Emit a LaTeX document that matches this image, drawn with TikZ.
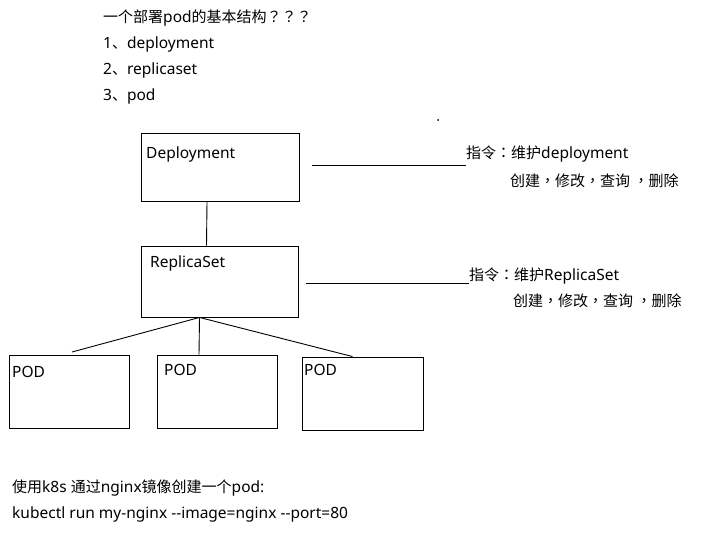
\documentclass[tikz,border=0pt]{standalone}
\usepackage{fontspec}
\setmainfont{Noto Sans}[Ligatures=TeXOff]
\newfontfamily\zhfont{Noto Sans CJK SC}[Ligatures=TeXOff,Scale=0.968]
\newfontfamily\zhpfont{Noto Sans CJK TC}[Scale=0.968]
\newcommand{\zh}[1]{{\zhfont #1}}
\newcommand{\zp}[1]{{\zhpfont #1}}
\usetikzlibrary{positioning,calc}

\tikzset{
  box/.style={draw, rectangle, inner sep=0pt, line width=0.9pt},
  txt/.style={anchor=west, inner sep=0pt, font=\fontsize{15.5pt}{18pt}\selectfont},
  conn/.style={line width=0.9pt}
}

\begin{document}
\begin{tikzpicture}[x=1pt,y=-1pt]
		\useasboundingbox[fill=white] (0,0) rectangle (708,534);
		% heading
		\node[txt] (title) at (103,18) {\zh{一个部署}pod\zh{的基本结构}\zp{？？？}};
		\node[txt] (item1) at (103,44) {1\zh{、}deployment};
		\node[txt] (item2) at (103,70) {2\zh{、}replicaset};
		\node[txt] (item3) at (103,96) {3\zh{、}pod};
		% boxes
		\node[box, minimum width=158pt, minimum height=68pt] (dep) at (220,167) {};
		\node[box, minimum width=157pt, minimum height=71pt] (rs) at (219.5,281.5) {};
		\node[box, minimum width=120pt, minimum height=73pt] (pod1) at (69,391.5) {};
		\node[box, minimum width=120pt, minimum height=73pt] (pod2) at (217,391.5) {};
		\node[box, minimum width=121pt, minimum height=73pt] (pod3) at (362.5,393.5) {};
		\node[txt] (deplbl) at (146,154) {Deployment};
		\node[txt] (rslbl) at (150,263) {ReplicaSet};
		\node[txt] (pod1lbl) at (12,372) {POD};
		\node[txt] (pod2lbl) at (164,370) {POD};
		\node[txt] (pod3lbl) at (304,370) {POD};
		% links
		\draw[conn] ([xshift=-13pt]dep.south) -- ([xshift=-13pt]rs.north);
		\coordinate (hub) at ([xshift=-20pt]rs.south);
		\coordinate (p1top) at (72,352);
		\draw[conn] (hub) -- (p1top);
		\draw[conn] (hub) -- ([xshift=-18pt]pod2.north);
		\draw[conn] (hub) -- ([xshift=-10pt]pod3.north);
		% notes on the right
		\node[txt] (cmd1) at (466,154) {\zh{指令}\zp{：}\zh{维护}deployment};
		\node[txt] (ops1) at (510,181) {\zh{创建}\zp{，}\zh{修改}\zp{，}\zh{查询 }\zp{，}\zh{删除}};
		\node[txt] (cmd2) at (469,276) {\zh{指令}\zp{：}\zh{维护}ReplicaSet};
		\node[txt] (ops2) at (513,301) {\zh{创建}\zp{，}\zh{修改}\zp{，}\zh{查询 }\zp{，}\zh{删除}};
		\coordinate (l1) at (312,165);
		\coordinate (l2) at (306,283);
		\draw[conn] (l1) -- (l1 -| cmd1.west);
		\draw[conn] (l2) -- (l2 -| cmd2.west);
		\fill (438,120) circle (1pt);
		% command at the bottom
		\node[txt] (usage) at (12,488) {\zh{使用}k8s \zh{通过}nginx\zh{镜像创建一个}pod:};
		\node[txt] (cmd) at (12,514) {kubectl run my-nginx --image=nginx --port=80};
		\end{tikzpicture}
\end{document}
